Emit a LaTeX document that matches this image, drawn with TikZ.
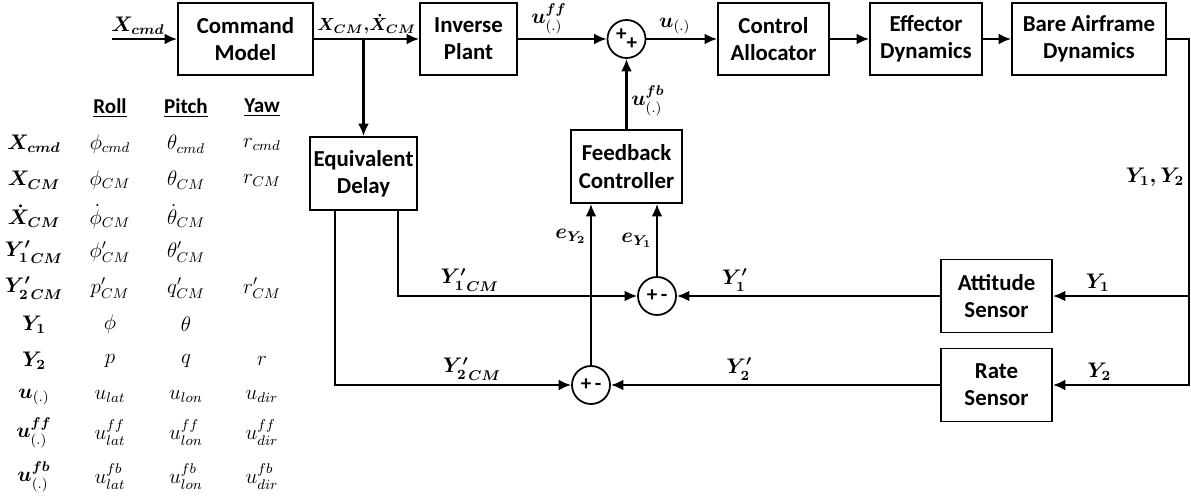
\documentclass[tikz,border=0pt]{standalone}
\usepackage[no-math]{fontspec}
\setmainfont{Carlito}
\usepackage{amsmath}
\usetikzlibrary{arrows.meta,positioning,calc,matrix}
\tikzset{
  >={Latex[length=2.5mm,width=2.2mm]},
  block/.style={draw,line width=1pt,minimum height=14.4mm,align=center,inner sep=2pt,font=\fontsize{13}{15.5}\selectfont\bfseries},
  sumnode/.style={draw,circle,line width=1pt,minimum size=7.6mm,inner sep=0pt,font=\fontsize{12}{14}\selectfont\bfseries},
  arrow/.style={->,line width=1.5pt},
  wire/.style={line width=1.5pt},
  sig/.style={font=\fontsize{12}{14}\selectfont,inner sep=2pt},
  hdr/.style={font=\fontsize{12}{14}\selectfont\bfseries},
}
\newcommand{\bsym}[1]{\boldsymbol{#1}}

\begin{document}
\begin{tikzpicture}[x=1cm,y=1cm]
  \useasboundingbox (0,0) rectangle (23.82,10.04);

  % forward path
  \coordinate (xin) at (2.24,9.26);
  \node[block,minimum width=27mm] (cmd) at (4.91,9.26) {Command\\Model};
  \node[block,minimum width=19.4mm] (inv) at (9.37,9.26) {Inverse\\Plant};
  \node[sumnode] (sumu) at (12.53,9.26) {+\raisebox{-5pt}{+}\hspace{4pt}};
  \node[block,minimum width=22.2mm] (alloc) at (15.47,9.26) {Control\\Allocator};
  \node[block,minimum width=22.4mm] (eff) at (18.52,9.26) {Effector\\Dynamics};
  \node[block,minimum width=30.8mm] (bare) at (21.78,9.26) {Bare Airframe\\Dynamics};
  \draw[arrow] (xin) -- node[sig,above,pos=0.4] (lxcmd) {$\bsym{X_{cmd}}$} (cmd);
  \draw[arrow] (cmd) -- node[sig,above,font=\fontsize{10}{12}\selectfont] (lxcm) {$\bsym{X_{CM},\!\dot{X}_{CM}}$} (inv);
  \draw[arrow] (inv) -- node[sig,above,pos=0.35] (luff) {$\bsym{u}^{\bsym{ff}}_{(.)}$} (sumu);
  \draw[arrow] (sumu) -- node[sig,above,pos=0.4] (lu) {$\bsym{u}_{(.)}$} (alloc);
  \draw[arrow] (alloc) -- (eff);
  \draw[arrow] (eff) -- (bare);

  % inner loop
  \node[block,minimum width=21.4mm,minimum height=14.6mm] (delay) at (7.27,6.57) {Equivalent\\Delay};
  \node[block,minimum width=22.2mm,minimum height=14.6mm] (fbc) at (12.53,6.71) {Feedback\\Controller};
  \node[sumnode] (sum1) at (13.14,4.12) {+\,-};
  \node[sumnode] (sum2) at (11.82,2.34) {+\,-};
  \node[block,minimum width=22.2mm,minimum height=14.6mm] (att) at (19.93,4.12) {Attitude\\Sensor};
  \node[block,minimum width=22.2mm,minimum height=14.6mm] (rate) at (19.93,2.34) {Rate\\Sensor};
  \draw[arrow] (cmd.east -| delay.north) -- (delay.north);
  \draw[arrow] (fbc) -- node[sig,right,pos=0.4] (lufb) {$\bsym{u}^{\bsym{fb}}_{(.)}$} (sumu);
  \draw[arrow] ($(delay.south)+(0.69,0)$) |- node[sig,above,pos=0.65] (ly1cm) {$\bsym{{Y'_1}_{CM}}$} (sum1);
  \draw[arrow] ($(delay.south)+(-0.57,0)$) |- node[sig,above,pos=0.79] (ly2cm) {$\bsym{{Y'_2}_{CM}}$} (sum2);
  \draw[arrow] (att) -- node[sig,above,pos=0.78] (ly1p) {$\bsym{Y'_1}$} (sum1);
  \draw[arrow] (rate) -- node[sig,above,pos=0.61] (ly2p) {$\bsym{Y'_2}$} (sum2);
  \draw[arrow] (sum1) -- node[sig,left] (le1) {$\bsym{e_{Y_1}}$} (sum1 |- fbc.south);
  \draw[arrow] (sum2) -- node[sig,left,pos=0.8] (le2) {$\bsym{e_{Y_2}}$} (sum2 |- fbc.south);

  % sensor feedback
  \coordinate (ytap) at (23.78,9.26);
  \coordinate (y1tap) at (23.78,4.12);
  \draw[arrow] (bare) -- (ytap) |- node[sig,left,pos=0.2] (ly12) {$\bsym{Y_1, Y_2}$}
    node[sig,above,pos=0.83] (ly2) {$\bsym{Y_2}$} (rate);
  \draw[arrow] (y1tap) -- node[sig,above,pos=0.67] (ly1) {$\bsym{Y_1}$} (att);

  % symbol table
  \matrix (tbl) [matrix of nodes,inner sep=0pt,row sep=0pt,column sep=0pt,
    nodes={minimum width=15.2mm,minimum height=7.22mm,inner sep=0pt,anchor=center,font=\fontsize{11.5}{13}\selectfont}]
    at (2.96,4.19) {
     & |[hdr]| \underline{Roll} & |[hdr]| \underline{Pitch} & |[hdr]| \underline{Yaw} \\
    $\bsym{X_{cmd}}$ & $\phi_{cmd}$ & $\theta_{cmd}$ & $r_{cmd}$ \\
    $\bsym{X_{CM}}$ & $\phi_{CM}$ & $\theta_{CM}$ & $r_{CM}$ \\
    $\bsym{\dot{X}_{CM}}$ & $\dot{\phi}_{CM}$ & $\dot{\theta}_{CM}$ \\
    $\bsym{{Y'_1}_{CM}}$ & $\phi'_{CM}$ & $\theta'_{CM}$ \\
    $\bsym{{Y'_2}_{CM}}$ & $p'_{CM}$ & $q'_{CM}$ & $r'_{CM}$ \\
    $\bsym{Y_1}$ & $\phi$ & $\theta$ \\
    $\bsym{Y_2}$ & $p$ & $q$ & $r$ \\
    $\bsym{u}_{(.)}$ & $u_{lat}$ & $u_{lon}$ & $u_{dir}$ \\
    $\bsym{u}^{\bsym{ff}}_{(.)}$ & $u^{ff}_{lat}$ & $u^{ff}_{lon}$ & $u^{ff}_{dir}$ \\[1.6mm]
    $\bsym{u}^{\bsym{fb}}_{(.)}$ & $u^{fb}_{lat}$ & $u^{fb}_{lon}$ & $u^{fb}_{dir}$ \\
  };
\end{tikzpicture}
\end{document}
